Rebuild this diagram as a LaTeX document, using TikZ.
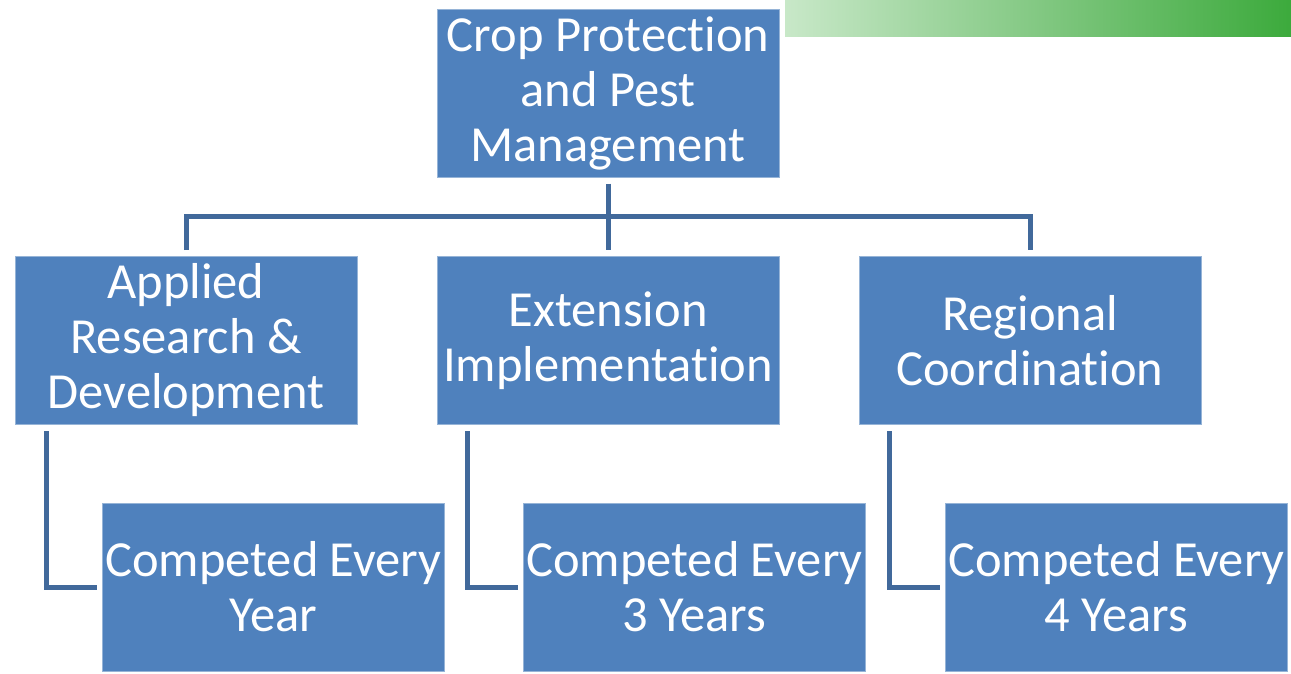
\documentclass[tikz,border=0pt]{standalone}
\usepackage{fontspec}
\setmainfont{Carlito}[Ligatures=NoCommon]
\usetikzlibrary{calc}
\definecolor{boxblue}{RGB}{79,129,189}
\definecolor{boxedge}{RGB}{150,180,215}
\definecolor{linkblue}{RGB}{65,105,155}
\definecolor{gleft}{RGB}{200,232,200}
\definecolor{gmid}{RGB}{130,200,130}
\definecolor{gright}{RGB}{60,170,60}
\tikzset{
  orgbox/.style={rectangle, fill=boxblue, draw=boxedge, line width=1pt,
    minimum width=342pt, minimum height=168pt, inner sep=0pt,
    text=white, align=center, font=\fontsize{50.5}{55}\selectfont},
  link/.style={draw=linkblue, line width=5pt}
}
\begin{document}
\begin{tikzpicture}[x=1pt,y=-1pt]
\useasboundingbox (0,0) rectangle (1291,673);
\shade[left color=gleft, right color=gmid] (785,0) rectangle (1040,36);
\shade[left color=gmid, right color=gright] (1039.5,0) rectangle (1291,36);
\node[orgbox] (top) at (608,93) {Crop Protection\\and Pest\\Management};
\node[orgbox] (b1) at (186,340.5) {Applied\\Research \&\\Development};
\node[orgbox] (b2) at (608,340.5) {Extension\\Implementation};
\node[orgbox] (b3) at (1030,340.5) {Regional\\Coordination};
\node[orgbox] (c1) at (273.5,587) {Competed Every\\Year};
\node[orgbox] (c2) at (694.5,587) {Competed Every\\3 Years};
\node[orgbox] (c3) at (1116.5,587) {Competed Every\\4 Years};
\draw[link] ([yshift=-6pt]top.south) -- ([yshift=6pt]b2.north);
\draw[link] ([yshift=6pt]b1.north) |- ([yshift=-39pt]top.south) -| ([yshift=6pt]b3.north);
\draw[link] ([xshift=32pt,yshift=-6pt]b1.south west) |- ([xshift=-5pt]c1.west);
\draw[link] ([xshift=31pt,yshift=-6pt]b2.south west) |- ([xshift=-5pt]c2.west);
\draw[link] ([xshift=31pt,yshift=-6pt]b3.south west) |- ([xshift=-5pt]c3.west);
\end{tikzpicture}
\end{document}
